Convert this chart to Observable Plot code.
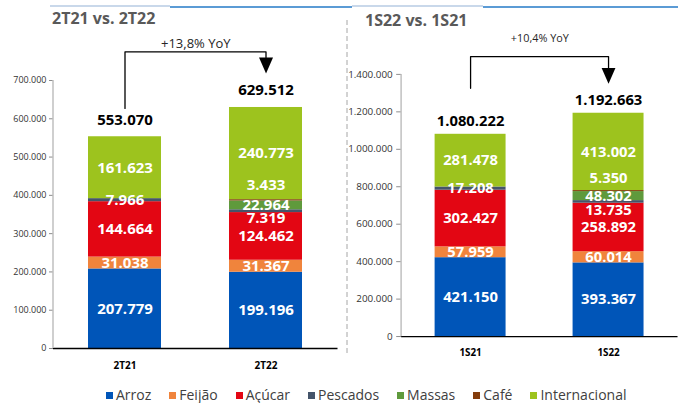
<!DOCTYPE html>
<html><head><meta charset="utf-8">
<script src="https://cdn.jsdelivr.net/npm/d3@7"></script>
<script src="https://cdn.jsdelivr.net/npm/@observablehq/plot@0.6"></script>
<style>
html,body{margin:0;padding:0;background:#fff;overflow:hidden;}
#wrap{position:relative;width:680px;height:403px;overflow:hidden;font-family:"Open Sans",sans-serif;}
.title{position:absolute;font-weight:700;font-size:16px;color:#595959;line-height:16px;white-space:nowrap;}
.chart{position:absolute;top:0;}
.bar{position:absolute;height:2px;}
#legend{position:absolute;top:387px;left:106px;display:flex;font-size:14px;line-height:16px;color:#404040;white-space:nowrap;}
.item{display:flex;align-items:center;margin-right:18px;}
.sw{width:7px;height:7px;margin-right:3px;}
</style>
</head><body>
<div id="wrap">
  <div class="bar" style="left:50px;width:120px;top:5px;background:#c9d8ea"></div>
  <div class="bar" style="left:170px;width:182px;top:6px;background:#5b9bd5"></div>
  <div class="bar" style="left:352px;width:131px;top:5px;background:#c9d8ea"></div>
  <div class="bar" style="left:483px;width:195px;top:6px;background:#5b9bd5"></div>
  <div class="title" id="t1" style="left:52px;top:10px"></div>
  <div class="title" id="t2" style="left:365px;top:12px"></div>
  <svg id="sep" style="position:absolute;left:0;top:0" width="680" height="403">
    <line x1="347" x2="347" y1="20" y2="356" stroke="#a6a6a6" stroke-width="1" stroke-dasharray="5,3"></line>
  </svg>
  <div class="chart" id="c1" style="left:0px"></div>
  <div class="chart" id="c2" style="left:340px"></div>
  <div id="legend"></div>
</div>
<script>
// ---- data ----
const categories = ["Arroz", "Feijão", "Açúcar", "Pescados", "Massas", "Café", "Internacional"];
const colors = ["#0055b8", "#f0843c", "#e30613", "#44546a", "#5f9a3c", "#843c0c", "#9dc31e"];

const quarterTitle = "2T21 vs. 2T22";
const quarterPeriods = ["2T21", "2T22"];
const quarter2T21 = [207779, 31038, 144664, 7966, 0, 0, 161623];
const quarter2T22 = [199196, 31367, 124462, 7319, 22964, 3433, 240773];
const quarterTotals = [553070, 629512];
const quarterTicks = [0, 100000, 200000, 300000, 400000, 500000, 600000, 700000];
const quarterYoY = "+13,8% YoY";

const semesterTitle = "1S22 vs. 1S21";
const semesterPeriods = ["1S21", "1S22"];
const semester1S21 = [421150, 57959, 302427, 17208, 0, 0, 281478];
const semester1S22 = [393367, 60014, 258892, 13735, 48302, 5350, 413002];
const semesterTotals = [1080222, 1192663];
const semesterTicks = [0, 200000, 400000, 600000, 800000, 1000000, 1200000, 1400000];
const semesterYoY = "+10,4% YoY";

// label nudges (style) for thin segments
const labelNudges = [
  {period: "2T22", category: "Pescados", dy: 7},
  {period: "2T22", category: "Café", dy: -15},
  {period: "1S22", category: "Pescados", dy: 9},
  {period: "1S22", category: "Café", dy: -13}
];

const locale = d3.formatLocale({decimal: ",", thousands: ".", grouping: [3], currency: ["", ""]});
const fmt = locale.format(",d");

const triangleDown = {draw(ctx) { ctx.moveTo(-7, -8); ctx.lineTo(7, -8); ctx.lineTo(0, 8); ctx.closePath(); }};

function makeChart(cfg) {
  const rows = cfg.periods.flatMap((p, i) => categories.map((c, j) => ({period: p, category: c, value: cfg.series[i][j]})));
  const tots = cfg.periods.map((p, i) => ({period: p, total: cfg.totals[i]}));
  const nudge = d => (labelNudges.find(n => n.period === d.period && n.category === d.category) || {dy: 0}).dy;
  const dyValues = Array.from(new Set([0, ...labelNudges.map(n => n.dy)]));
  const labelMarks = dyValues.map(dy => Plot.text(rows, Plot.stackY({
    x: "period", y: "value", z: "category",
    text: d => (d.value > 0 && nudge(d) === dy) ? fmt(d.value) : "",
    dy, fill: "white", fontWeight: "bold", fontSize: 15
  })));
  const b = cfg.bracket;
  const m = cfg.margins;
  const plot = Plot.plot({
    width: cfg.width, height: cfg.height,
    marginLeft: m[3], marginRight: m[1], marginTop: m[0], marginBottom: m[2],
    style: {fontFamily: "Open Sans", background: "transparent", color: "#404040", overflow: "visible"},
    x: {type: "band", domain: cfg.periods, paddingInner: cfg.pi, paddingOuter: cfg.po, label: null},
    y: {domain: [0, cfg.ticks[cfg.ticks.length - 1]], label: null},
    color: {domain: categories, range: colors},
    marks: [
      Plot.barY(rows, {x: "period", y: "value", fill: "category", order: categories}),
      ...labelMarks,
      Plot.text(tots, {x: "period", y: "total", text: d => fmt(d.total), dy: cfg.totalDy, fill: "black", fontWeight: "bold", fontSize: 15}),
      Plot.ruleY([0], {stroke: "black", strokeWidth: 1.3}),
      Plot.axisY({ticks: cfg.ticks, tickFormat: fmt, tickSize: cfg.tickSize, tickPadding: cfg.tickPadding, fontSize: cfg.tickFont, stroke: "#8c8c8c", fill: "#333333"}),
      Plot.axisX({tickSize: 0, tickPadding: 13, fontWeight: "bold", fontSize: 10, fill: "black"}),
      Plot.line([{x: b.from, y: b.start}, {x: b.from, y: b.top}, {x: b.to, y: b.top}, {x: b.to, y: b.triTop}],
        {x: "x", y: "y", stroke: "black", strokeWidth: 1.3}),
      Plot.dot([{x: b.to, y: b.arrow}], {x: "x", y: "y", symbol: triangleDown, fill: "black", stroke: null, r: 7}),
      Plot.text([b], {y: "top", text: "label", dy: cfg.yoyDy, fontSize: cfg.yoyFont, fill: "#262626"})
    ]
  });
  d3.select(plot).append("line")
    .attr("x1", m[3]).attr("x2", m[3])
    .attr("y1", m[0]).attr("y2", cfg.height - m[2])
    .attr("stroke", "#bfbfbf").attr("stroke-width", 1.5);
  return plot;
}

document.getElementById("t1").textContent = quarterTitle;
document.getElementById("t2").textContent = semesterTitle;

document.getElementById("c1").append(makeChart({
  periods: quarterPeriods, series: [quarter2T21, quarter2T22], totals: quarterTotals, ticks: quarterTicks,
  width: 345, height: 380, margins: [80, 7.5, 32, 53], pi: 0.484, po: 0.247,
  tickSize: 4, tickPadding: 3, tickFont: 9, totalDy: -17, yoyDy: -8, yoyFont: 13,
  bracket: {from: "2T21", to: "2T22", start: 627000, top: 775000, triTop: 760000, arrow: 739000, label: quarterYoY}
}));

document.getElementById("c2").append(makeChart({
  periods: semesterPeriods, series: [semester1S21, semester1S22], totals: semesterTotals, ticks: semesterTicks,
  width: 345, height: 380, margins: [75, 2.5, 39, 62], pi: 0.4875, po: 0.242,
  tickSize: 5, tickPadding: 4, tickFont: 10, totalDy: -13, yoyDy: -18, yoyFont: 11,
  bracket: {from: "1S21", to: "1S22", start: 1326000, top: 1495000, triTop: 1431000, arrow: 1392000, label: semesterYoY}
}));

const legend = d3.select("#legend");
categories.forEach((c, i) => {
  const it = legend.append("div").attr("class", "item");
  it.append("div").attr("class", "sw").style("background", colors[i]);
  it.append("span").text(c);
});
</script>
</body></html>
